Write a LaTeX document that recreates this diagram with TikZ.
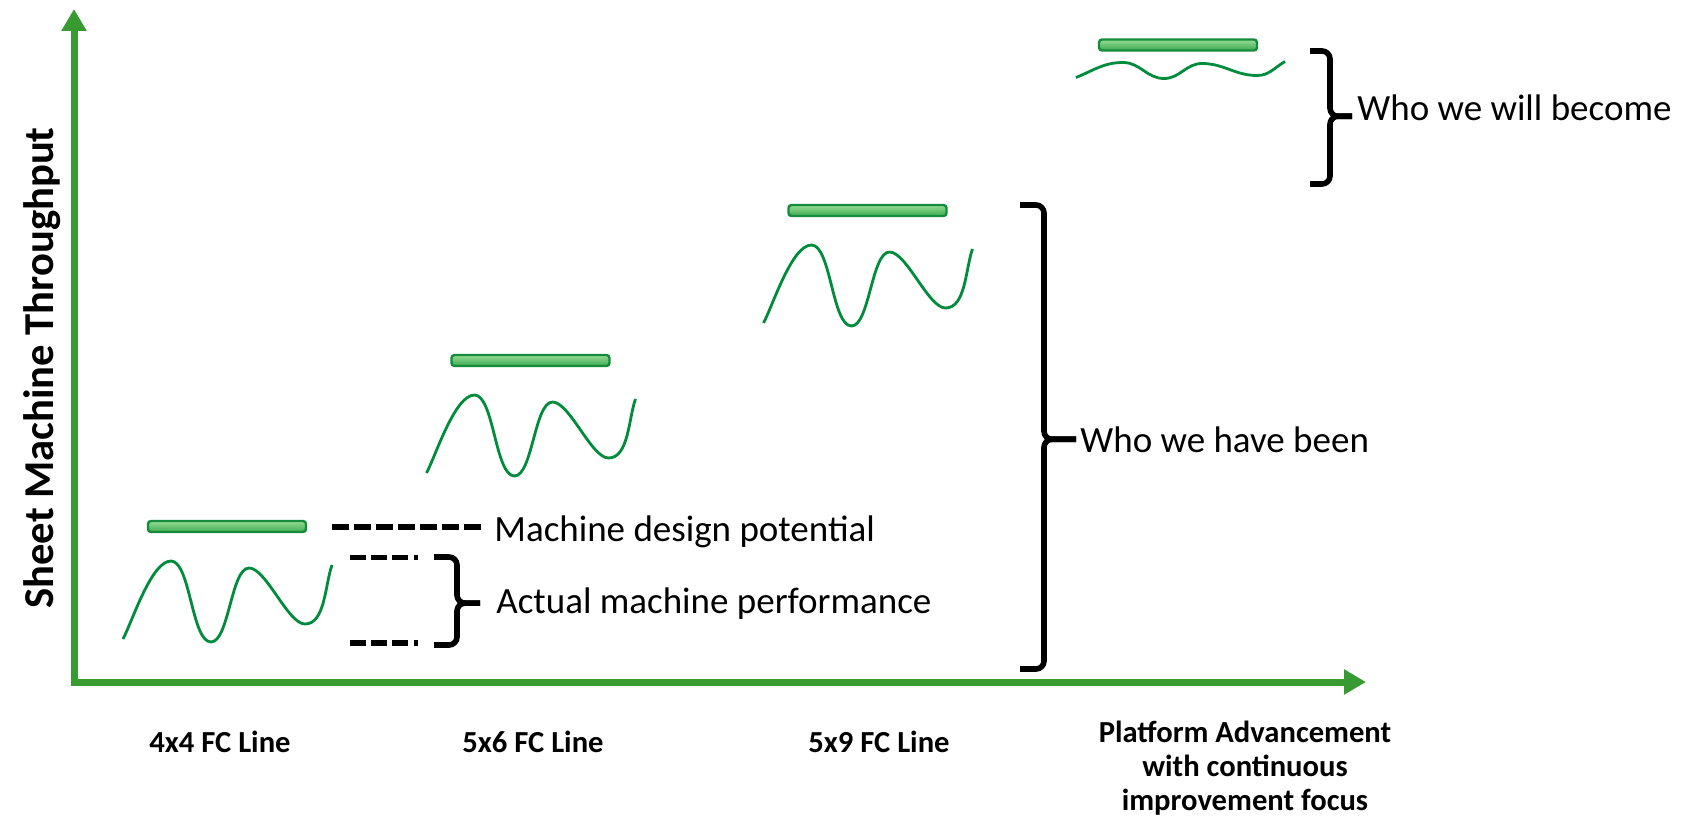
\documentclass[tikz,border=0pt]{standalone}
\usepackage{fontspec}
\setmainfont{Carlito}
\usetikzlibrary{arrows.meta}
\definecolor{axisgreen}{RGB}{55,155,50}
\definecolor{wavegreen}{RGB}{0,140,60}
\definecolor{baredge}{RGB}{20,140,60}
\definecolor{bartop}{RGB}{150,220,150}
\definecolor{barbottom}{RGB}{60,170,80}
\begin{document}
\begin{tikzpicture}[x=0.5pt,y=0.5pt,line join=round]
  \tikzstyle{axisline}=[line width=3.5pt,draw=axisgreen,-{Triangle[length=11pt,width=12pt]}]
  \tikzstyle{bar}=[rectangle,rounded corners=1.5pt,draw=baredge,line width=1.2pt,top color=bartop,bottom color=barbottom,minimum width=79pt,minimum height=5.5pt,inner sep=0pt,outer sep=0pt]
  \tikzstyle{wave}=[draw=wavegreen,line width=1.4pt,looseness=0.55]
  \tikzstyle{bracket}=[draw=black,line width=2.8pt,rounded corners=4pt]
  \tikzstyle{potential}=[draw=black,line width=2.6pt,dash pattern=on 8.5pt off 2.5pt]
  \tikzstyle{actual}=[draw=black,line width=2.6pt,dash pattern=on 8pt off 2.5pt on 8pt off 2.5pt on 8pt off 3pt on 2pt off 10pt]
  \tikzstyle{note}=[anchor=base west,inner sep=0pt,font=\fontsize{18.5}{22}\selectfont]
  \tikzstyle{category}=[anchor=base,inner sep=0pt,align=center,font=\fontsize{15.3}{16.8}\selectfont\bfseries]
  \useasboundingbox (0,0) rectangle (1691,821);
  % axes
  \coordinate (origin) at (74,139);
  \coordinate (yTip) at (74,812);
  \coordinate (xTip) at (1366,139);
  \draw[axisline] ([yshift=-1.75pt]origin) -- (yTip);
  \draw[axisline] ([xshift=-1.75pt]origin) -- (xTip);
  \node[rotate=90,anchor=base,inner sep=0pt,font=\fontsize{21.3}{25}\selectfont\bfseries] (yTitle) at (54,453) {Sheet Machine Throughput};
  % categories
  \node[category] (cat44) at (220,69) {4x4 FC Line};
  \node[category] (cat56) at (533,69) {5x6 FC Line};
  \node[category] (cat59) at (879,69) {5x9 FC Line};
  \node[category] (catPlat) at (1245,11) {Platform Advancement\\with continuous\\improvement focus};
  % design potential bars
  \node[bar] (bar1) at (227,294.5) {};
  \node[bar] (bar2) at (530.5,460.5) {};
  \node[bar] (bar3) at (867.5,610.5) {};
  \node[bar] (bar4) at (1178,776) {};
  % actual performance
  \draw[wave] ([shift={(-25,-118)}]bar1.north west) to[out=62,in=180] ++(48,78) to[out=0,in=180] ++(40,-81)
    to[out=0,in=180] ++(38,74) to[out=0,in=180] ++(56,-56) to[out=0,in=250,looseness=0.8] ++(27,59);
  \draw[wave] ([shift={(-25,-118)}]bar2.north west) to[out=62,in=180] ++(48,78) to[out=0,in=180] ++(40,-81)
    to[out=0,in=180] ++(38,74) to[out=0,in=180] ++(56,-56) to[out=0,in=250,looseness=0.8] ++(27,59);
  \draw[wave] ([shift={(-25,-118)}]bar3.north west) to[out=62,in=180] ++(48,78) to[out=0,in=180] ++(40,-81)
    to[out=0,in=180] ++(38,74) to[out=0,in=180] ++(56,-56) to[out=0,in=250,looseness=0.8] ++(27,59);
  \draw[wave] ([shift={(-23,-38)}]bar4.north west) to[out=22,in=180,looseness=1] ++(47,15) to[out=0,in=180,looseness=1] ++(41,-16)
    to[out=0,in=180,looseness=1] ++(38,15) to[out=0,in=180,looseness=1] ++(55,-12) to[out=0,in=210,looseness=1] ++(28,14);
  % legend
  \node[note] (lblDesign) at (494,280) {Machine design potential};
  \node[note] (lblActual) at (496,208) {Actual machine performance};
  \coordinate (potA) at (332,294);
  \coordinate (potB) at (481,294);
  \draw[potential] (potA) -- (potB);
  \coordinate (actA1) at (350,263.5);
  \coordinate (actA2) at (418,263.5);
  \coordinate (actB1) at (350,178);
  \coordinate (actB2) at (418,178);
  \draw[actual] (actA1) -- (actA2);
  \draw[actual] (actB1) -- (actB2);
  \coordinate (actTop) at (434,264);
  \coordinate (actBot) at (434,176);
  \draw[bracket] (actTop) -- ++(23,0) |- ([xshift=-8pt]lblActual.west);
  \draw[bracket] (actBot) -- ++(23,0) |- ([xshift=-8pt]lblActual.west);
  % who we are
  \node[note] (lblBeen) at (1080,369) {Who we have been};
  \coordinate (beenTop) at (1020,616);
  \coordinate (beenBot) at (1020,152);
  \draw[bracket] (beenTop) -- ++(24,0) |- ([xshift=-2pt]lblBeen.west);
  \draw[bracket] (beenBot) -- ++(24,0) |- ([xshift=-2pt]lblBeen.west);
  \node[note] (lblBecome) at (1357,700) {Who we will become};
  \coordinate (becTop) at (1310,770);
  \coordinate (becBot) at (1310,637);
  \draw[bracket] (becTop) -- ++(20,0) |- ([xshift=-2.5pt,yshift=-4pt]lblBecome.west);
  \draw[bracket] (becBot) -- ++(20,0) |- ([xshift=-2.5pt,yshift=-4pt]lblBecome.west);
\end{tikzpicture}
\end{document}
